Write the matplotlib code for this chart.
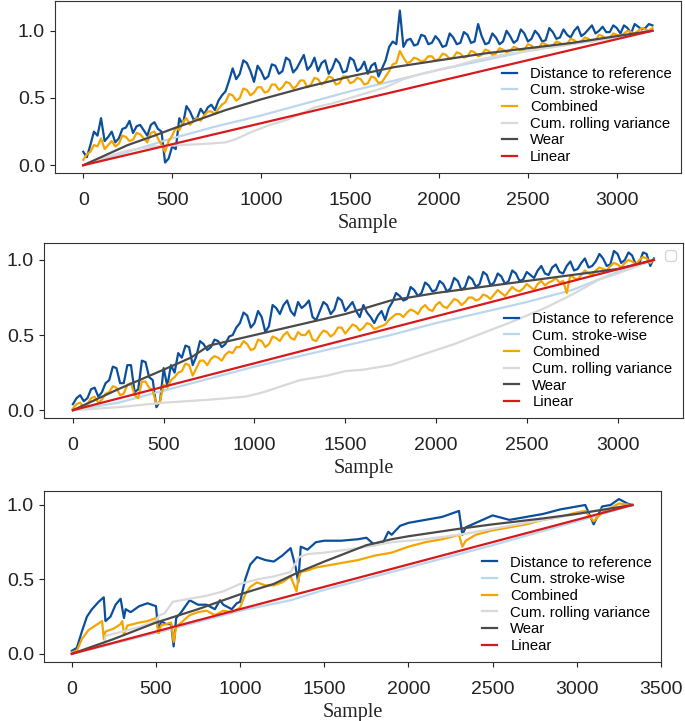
import matplotlib
matplotlib.use("Agg")
import matplotlib.pyplot as plt
import numpy as np

labels = ["Distance to reference", "Cum. stroke-wise", "Combined",
          "Cum. rolling variance", "Wear", "Linear"]
colors = ["#0b4f9c", "#bcd6ee", "#f5a500", "#d9d9d9", "#4a4a4a", "#d7191c"]

# ---- panel 1 ----
p1_n = 3200
p1_dist_x = np.arange(0, 3201, 20)
p1_dist = [0.10, 0.06, 0.15, 0.25, 0.22, 0.35, 0.18, 0.21, 0.25, 0.17,
           0.20, 0.27, 0.28, 0.33, 0.24, 0.29, 0.30, 0.26, 0.22, 0.30,
           0.32, 0.27, 0.25, 0.02, 0.05, 0.14, 0.12, 0.35, 0.30, 0.44,
           0.40, 0.34, 0.35, 0.42, 0.38, 0.43, 0.45, 0.41, 0.48, 0.52,
           0.55, 0.63, 0.72, 0.64, 0.68, 0.78, 0.76, 0.70, 0.62, 0.74,
           0.70, 0.64, 0.66, 0.75, 0.74, 0.68, 0.70, 0.80, 0.78, 0.69,
           0.72, 0.77, 0.82, 0.71, 0.74, 0.80, 0.70, 0.76, 0.78, 0.68,
           0.72, 0.79, 0.76, 0.69, 0.70, 0.80, 0.78, 0.70, 0.72, 0.77,
           0.68, 0.74, 0.76, 0.66, 0.72, 0.78, 0.88, 0.92, 0.90, 1.15,
           0.88, 0.93, 0.94, 0.89, 0.90, 0.97, 0.96, 0.90, 0.91, 0.96,
           0.93, 0.88, 0.89, 0.98, 0.95, 0.90, 0.91, 0.99, 0.97, 0.91,
           0.92, 1.05, 0.96, 0.90, 0.91, 0.98, 0.95, 0.90, 0.92, 1.00,
           0.96, 0.91, 0.93, 1.01, 0.98, 0.92, 0.94, 1.00, 0.97, 0.92,
           0.93, 1.02, 0.99, 0.94, 0.95, 1.01, 0.97, 0.95, 1.00, 1.03,
           0.96, 0.98, 1.01, 1.04, 0.98, 1.00, 1.03, 0.99, 0.99, 1.04,
           1.02, 0.98, 1.04, 1.02, 0.98, 1.05, 1.03, 1.01, 1.02, 1.05,
           1.04]
p1_comb_x = np.arange(0, 3201, 20)
p1_comb = [0.04, 0.08, 0.10, 0.15, 0.14, 0.20, 0.12, 0.15, 0.18, 0.14,
           0.16, 0.22, 0.21, 0.18, 0.19, 0.24, 0.23, 0.20, 0.17, 0.24,
           0.25, 0.20, 0.15, 0.10, 0.18, 0.22, 0.28, 0.26, 0.32, 0.35,
           0.30, 0.33, 0.35, 0.33, 0.37, 0.40, 0.40, 0.38, 0.42, 0.45,
           0.47, 0.53, 0.52, 0.48, 0.50, 0.57, 0.56, 0.52, 0.54, 0.58,
           0.58, 0.54, 0.55, 0.60, 0.60, 0.56, 0.58, 0.62, 0.61, 0.57,
           0.59, 0.63, 0.63, 0.58, 0.60, 0.65, 0.64, 0.60, 0.62, 0.66,
           0.65, 0.60, 0.61, 0.66, 0.66, 0.61, 0.62, 0.65, 0.64, 0.60,
           0.61, 0.66, 0.65, 0.61, 0.62, 0.66, 0.70, 0.75, 0.76, 0.85,
           0.80, 0.76, 0.77, 0.80, 0.79, 0.77, 0.78, 0.81, 0.81, 0.78,
           0.79, 0.83, 0.82, 0.79, 0.80, 0.84, 0.83, 0.80, 0.81, 0.85,
           0.84, 0.81, 0.82, 0.86, 0.85, 0.82, 0.83, 0.87, 0.86, 0.84,
           0.85, 0.88, 0.87, 0.85, 0.86, 0.90, 0.89, 0.86, 0.87, 0.91,
           0.90, 0.88, 0.89, 0.92, 0.91, 0.89, 0.90, 0.94, 0.93, 0.91,
           0.92, 0.95, 0.94, 0.92, 0.93, 0.97, 0.96, 0.94, 0.95, 0.98,
           0.97, 0.96, 0.98, 1.00, 0.99, 0.98, 1.00, 1.02, 1.01, 1.00,
           1.02]
p1_stroke_x = [0, 250, 500, 750, 1000, 1250, 1500, 1750, 2000, 2250, 2500, 2750, 3000, 3200]
p1_stroke = [0, 0.10, 0.20, 0.29, 0.37, 0.46, 0.55, 0.63, 0.71, 0.78, 0.85, 0.91, 0.96, 1.0]
p1_var_x = [0, 100, 250, 400, 550, 700, 800, 850, 950, 1050, 1150, 1250, 1300, 1400, 1500,
            1600, 1700, 1800, 1900, 2000, 2100, 2200, 2400, 2600, 2800, 3000, 3200]
p1_var = [0, 0.05, 0.11, 0.14, 0.15, 0.16, 0.17, 0.19, 0.25, 0.30, 0.34, 0.40, 0.43, 0.46, 0.50,
          0.54, 0.58, 0.64, 0.68, 0.71, 0.74, 0.78, 0.83, 0.87, 0.91, 0.95, 1.0]
p1_wear_x = [0, 100, 250, 400, 500, 650, 800, 1000, 1250, 1500, 1750, 2000, 2250, 2500, 2750,
             3000, 3200]
p1_wear = [0, 0.06, 0.15, 0.22, 0.27, 0.34, 0.41, 0.49, 0.58, 0.66, 0.73, 0.78, 0.83, 0.87, 0.91,
           0.96, 1.0]

# ---- panel 2 ----
p2_n = 3200
p2_dist_x = np.arange(0, 3201, 20)
p2_dist = [0.04, 0.08, 0.10, 0.06, 0.08, 0.14, 0.15, 0.09, 0.12, 0.18,
           0.20, 0.29, 0.28, 0.18, 0.18, 0.30, 0.30, 0.12, 0.14, 0.33,
           0.32, 0.22, 0.20, 0.02, 0.06, 0.28, 0.16, 0.30, 0.25, 0.38,
           0.35, 0.43, 0.42, 0.30, 0.36, 0.46, 0.44, 0.40, 0.42, 0.47,
           0.46, 0.42, 0.44, 0.49, 0.50, 0.55, 0.58, 0.65, 0.63, 0.55,
           0.58, 0.66, 0.62, 0.52, 0.56, 0.70, 0.68, 0.64, 0.70, 0.73,
           0.66, 0.63, 0.72, 0.68, 0.70, 0.73, 0.62, 0.60, 0.66, 0.72,
           0.70, 0.64, 0.67, 0.75, 0.73, 0.66, 0.69, 0.72, 0.66, 0.62,
           0.70, 0.65, 0.62, 0.58, 0.63, 0.66, 0.60, 0.68, 0.72, 0.78,
           0.76, 0.73, 0.74, 0.82, 0.80, 0.76, 0.78, 0.85, 0.83, 0.79,
           0.80, 0.86, 0.84, 0.79, 0.81, 0.88, 0.86, 0.80, 0.82, 0.89,
           0.87, 0.82, 0.84, 0.92, 0.90, 0.83, 0.85, 0.91, 0.89, 0.84,
           0.86, 0.93, 0.91, 0.86, 0.87, 0.92, 0.90, 0.88, 0.93, 0.96,
           0.91, 0.90, 0.95, 0.97, 0.92, 0.91, 0.96, 0.99, 0.93, 0.94,
           0.98, 1.01, 0.95, 0.96, 0.99, 1.04, 1.01, 0.96, 0.97, 1.06,
           1.04, 0.98, 1.00, 1.05, 1.03, 0.97, 0.98, 1.05, 1.04, 0.96,
           1.01]
p2_comb_x = np.arange(0, 3201, 20)
p2_comb = [0.01, 0.04, 0.05, 0.02, 0.04, 0.08, 0.09, 0.05, 0.07, 0.11,
           0.12, 0.16, 0.15, 0.10, 0.11, 0.17, 0.18, 0.10, 0.08, 0.19,
           0.19, 0.15, 0.13, 0.04, 0.06, 0.17, 0.15, 0.20, 0.22, 0.25,
           0.26, 0.31, 0.30, 0.23, 0.28, 0.33, 0.33, 0.30, 0.34, 0.36,
           0.35, 0.33, 0.37, 0.39, 0.38, 0.42, 0.42, 0.46, 0.44, 0.40,
           0.41, 0.47, 0.46, 0.42, 0.44, 0.49, 0.48, 0.46, 0.50, 0.52,
           0.48, 0.47, 0.52, 0.50, 0.50, 0.53, 0.47, 0.46, 0.50, 0.53,
           0.52, 0.49, 0.51, 0.55, 0.55, 0.51, 0.54, 0.57, 0.56, 0.53,
           0.55, 0.58, 0.57, 0.54, 0.55, 0.56, 0.57, 0.60, 0.62, 0.64,
           0.64, 0.62, 0.65, 0.67, 0.66, 0.64, 0.68, 0.70, 0.67, 0.66,
           0.70, 0.72, 0.69, 0.68, 0.71, 0.74, 0.73, 0.70, 0.72, 0.75,
           0.75, 0.73, 0.74, 0.77, 0.76, 0.74, 0.77, 0.80, 0.78, 0.76,
           0.79, 0.82, 0.80, 0.79, 0.81, 0.84, 0.82, 0.80, 0.84, 0.86,
           0.83, 0.85, 0.86, 0.88, 0.85, 0.86, 0.78, 0.90, 0.88, 0.87,
           0.90, 0.93, 0.91, 0.90, 0.93, 0.95, 0.94, 0.93, 0.96, 0.98,
           0.97, 0.95, 0.98, 1.00, 0.99, 0.97, 1.00, 1.02, 1.01, 0.98,
           1.00]
p2_stroke_x = [0, 250, 500, 750, 1000, 1250, 1500, 1750, 2000, 2250, 2500, 2750, 3000, 3200]
p2_stroke = [0, 0.05, 0.13, 0.21, 0.29, 0.36, 0.43, 0.50, 0.58, 0.65, 0.72, 0.80, 0.92, 1.0]
p2_var_x = [0, 250, 500, 750, 950, 1050, 1150, 1250, 1400, 1500, 1600, 1750, 1850, 2000, 2100,
            2250, 2400, 2500, 2600, 2750, 2900, 3000, 3200]
p2_var = [0, 0.02, 0.05, 0.07, 0.09, 0.12, 0.16, 0.20, 0.23, 0.26, 0.27, 0.30, 0.34, 0.40, 0.44,
          0.51, 0.58, 0.63, 0.68, 0.77, 0.87, 0.91, 1.0]
p2_wear_x = [0, 250, 500, 650, 750, 1000, 1250, 1500, 1750, 2000, 2250, 2500, 2750, 3000, 3200]
p2_wear = [0, 0.14, 0.27, 0.35, 0.43, 0.50, 0.57, 0.64, 0.73, 0.78, 0.82, 0.86, 0.90, 0.94, 1.0]

# ---- panel 3 ----
p3_n = 3330
p3_dist_x = [0, 30, 60, 90, 120, 160, 190, 200, 230, 260, 290, 310, 320, 350, 400, 450, 500,
             515, 530, 560, 590, 605, 620, 650, 700, 750, 800, 850, 880, 900, 950, 980, 1000,
             1030, 1060, 1100, 1150, 1200, 1250, 1300, 1330, 1345, 1360, 1400, 1450, 1500,
             1600, 1700, 1750, 1800, 1850, 1880, 1900, 1950, 2000, 2100, 2200, 2300, 2320,
             2340, 2400, 2500, 2600, 2700, 2800, 2900, 3000, 3050, 3100, 3150, 3200, 3250,
             3300, 3330]
p3_dist = [0.02, 0.04, 0.15, 0.25, 0.30, 0.35, 0.38, 0.22, 0.25, 0.33, 0.37, 0.24, 0.30, 0.28,
           0.32, 0.34, 0.32, 0.14, 0.22, 0.20, 0.20, 0.05, 0.24, 0.28, 0.36, 0.33, 0.33, 0.30,
           0.36, 0.33, 0.30, 0.34, 0.35, 0.50, 0.60, 0.65, 0.63, 0.62, 0.66, 0.71, 0.58, 0.48,
           0.72, 0.70, 0.75, 0.76, 0.76, 0.77, 0.78, 0.73, 0.75, 0.82, 0.80, 0.86, 0.88, 0.90,
           0.92, 0.96, 0.80, 0.85, 0.88, 0.93, 0.90, 0.92, 0.94, 0.97, 0.99, 1.00, 0.87, 0.99,
           1.00, 1.04, 1.01, 1.00]
p3_comb_x = [0, 30, 60, 100, 140, 180, 190, 200, 250, 290, 300, 310, 330, 400, 450, 500, 515,
             530, 560, 590, 605, 620, 650, 700, 750, 800, 850, 900, 950, 1000, 1030, 1060,
             1100, 1150, 1200, 1250, 1300, 1335, 1345, 1360, 1400, 1450, 1500, 1600, 1700,
             1800, 1900, 2000, 2100, 2200, 2300, 2320, 2340, 2400, 2500, 2600, 2700, 2800,
             2900, 3000, 3050, 3100, 3150, 3200, 3250, 3330]
p3_comb = [0.01, 0.02, 0.10, 0.16, 0.19, 0.22, 0.10, 0.15, 0.17, 0.20, 0.22, 0.13, 0.19, 0.21,
           0.22, 0.24, 0.14, 0.19, 0.20, 0.21, 0.08, 0.18, 0.21, 0.26, 0.28, 0.29, 0.26, 0.29,
           0.28, 0.31, 0.40, 0.45, 0.48, 0.46, 0.46, 0.48, 0.52, 0.42, 0.50, 0.55, 0.56, 0.58,
           0.59, 0.61, 0.63, 0.66, 0.68, 0.72, 0.75, 0.77, 0.80, 0.72, 0.76, 0.80, 0.83, 0.85,
           0.87, 0.90, 0.92, 0.95, 0.96, 0.89, 0.95, 0.98, 1.01, 1.00]
p3_stroke_x = [0, 500, 1000, 1300, 1500, 2000, 2500, 3000, 3330]
p3_stroke = [0, 0.14, 0.29, 0.36, 0.43, 0.58, 0.73, 0.89, 1.0]
p3_var_x = [0, 100, 150, 190, 200, 300, 400, 500, 520, 550, 600, 700, 800, 900, 1000, 1100,
            1200, 1300, 1350, 1400, 1500, 1700, 1900, 2100, 2300, 2500, 2700, 2900, 3100, 3330]
p3_var = [0, 0.03, 0.05, 0.05, 0.12, 0.15, 0.18, 0.22, 0.26, 0.27, 0.35, 0.37, 0.39, 0.42,
          0.47, 0.50, 0.52, 0.55, 0.65, 0.67, 0.68, 0.71, 0.75, 0.77, 0.80, 0.84, 0.88, 0.92,
          0.96, 1.0]
p3_wear_x = [0, 250, 500, 750, 1000, 1200, 1350, 1500, 1750, 1900, 2000, 2300, 2500, 2800,
             3000, 3330]
p3_wear = [0, 0.10, 0.21, 0.30, 0.40, 0.47, 0.55, 0.62, 0.73, 0.77, 0.79, 0.84, 0.87, 0.91,
           0.94, 1.0]

panels = [
    (p1_dist_x, p1_dist, p1_stroke_x, p1_stroke, p1_comb_x, p1_comb,
     p1_var_x, p1_var, p1_wear_x, p1_wear, p1_n),
    (p2_dist_x, p2_dist, p2_stroke_x, p2_stroke, p2_comb_x, p2_comb,
     p2_var_x, p2_var, p2_wear_x, p2_wear, p2_n),
    (p3_dist_x, p3_dist, p3_stroke_x, p3_stroke, p3_comb_x, p3_comb,
     p3_var_x, p3_var, p3_wear_x, p3_wear, p3_n),
]

# axes boxes in figure fractions [left, bottom, width, height]
boxes = [[0.080, 0.760, 0.914, 0.238],
         [0.064, 0.420, 0.933, 0.243],
         [0.064, 0.082, 0.901, 0.237]]
xlims = [(-160, 3360), (-160, 3360), (-166, 3500)]
ylims = [(-0.058, 1.218), (-0.053, 1.113), (-0.054, 1.094)]

fig = plt.figure(figsize=(6.85, 7.21), dpi=100)

for i, p in enumerate(panels):
    ax = fig.add_axes(boxes[i])
    dx, dy, sx, sy, cx, cy, vx, vy, wx, wy, n = p
    series = [(dx, dy), (sx, sy), (cx, cy), (vx, vy), (wx, wy), ([0, n], [0, 1])]
    for (x, y), lab, col in zip(series, labels, colors):
        ax.plot(x, y, color=col, lw=1.6, label=lab)
    ax.set_xlim(xlims[i])
    ax.set_ylim(ylims[i])
    ax.set_yticks([0.0, 0.5, 1.0])
    ax.tick_params(labelsize=14, colors="#222222")
    ax.tick_params(axis="x", pad=10)
    for t in ax.get_xticklabels() + ax.get_yticklabels():
        t.set_family("Liberation Sans")
    for sp in ax.spines.values():
        sp.set_color("#333333")
    ax.set_xlabel("Sample", family="Liberation Serif", fontsize=14.5, color="#222222",
                  labelpad=4)
    leg = ax.legend(loc="lower right", frameon=False, handlelength=1.0, handletextpad=0.9,
                    labelspacing=0.18, borderaxespad=0.2,
                    prop={"family": "Liberation Sans", "size": 10.7})
    if i == 1:
        # stray empty legend box in the top-right corner
        ax.add_artist(leg)
        ax.legend(handles=[], loc="upper right")

fig.savefig("out.png", dpi=100)
